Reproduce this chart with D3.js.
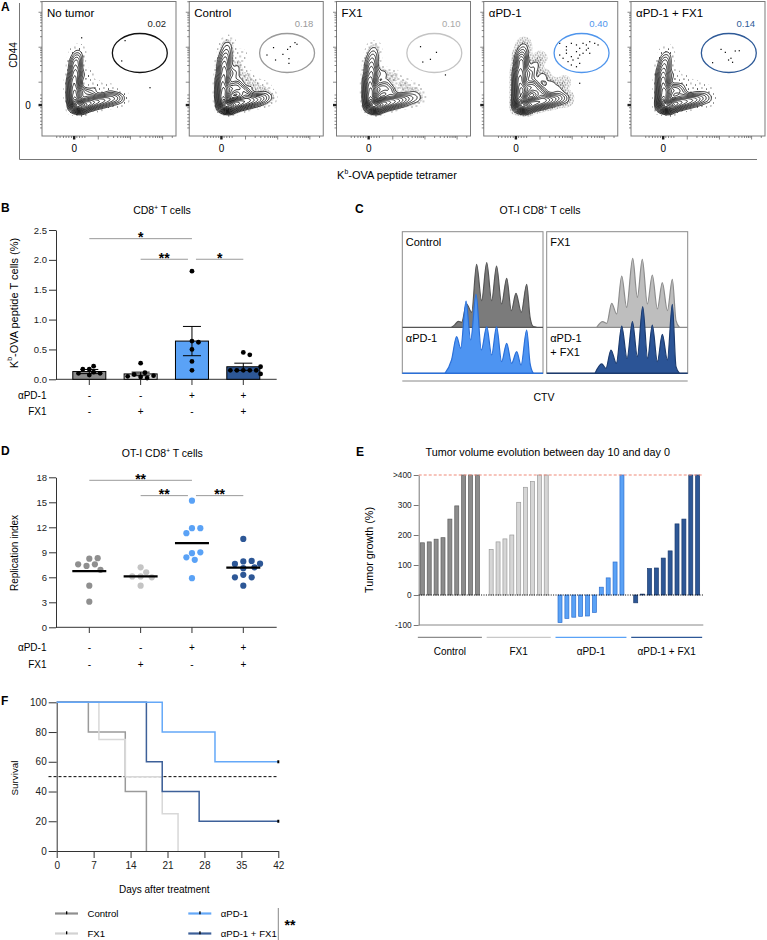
<!DOCTYPE html>
<html><head><meta charset="utf-8">
<script src="https://cdn.jsdelivr.net/npm/d3@7/dist/d3.min.js"></script>
<style>
body{margin:0;background:#fff;}
svg{display:block;font-family:"Liberation Sans",Arial,Helvetica,sans-serif;}
</style></head><body>
<svg id="fig" width="767" height="940"></svg>
<script>
// ======================= DATA =======================
// ---- Panel A (flow cytometry, arbitrary fluorescence units 0-100) ----
const flowGroups = ["No tumor","Control","FX1","αPD-1","αPD-1 + FX1"];
const gateValues = ["0.02","0.18","0.10","0.40","0.14"];
const gateEllipse = [73, 61.7, 20.5, 14.5];   // cx, cy, rx, ry (data units)
// density anchors [x, y, weight]
const popNoTumor = [[25,23,12],[29,22,10],[24,29,9],[24,35,8],[24,41,7],[25,47,6],[25,53,4],[26,58,2.5],[27,63,0.8],[34,24,8],[39,25,6],[44,26,5],[49,27,4],[54,28,3],[59,28,1.5],[30,32,3],[36,31,2],[33,45,0.8],[40,36,0.8],[50,34,0.6]];
const popControl = [[26,23,12],[30,22,10],[25,29,9],[25,35,8],[25,41,7],[26,47,6],[26,53,5],[27,59,3.5],[28,65,1.8],[29,70,0.6],[35,24,8],[40,25,6],[45,26,5],[50,27,4],[55,28,2.5],[60,29,1],[31,34,4],[35,38,3],[39,34,3],[43,31,2.5],[33,46,2],[36,52,1],[42,44,1],[48,38,1],[56,36,0.6],[38,60,0.5]];
const popFX1 = [[26,23,12],[30,22,10],[25,29,9],[25,35,8],[25,41,7],[26,47,5.5],[26,53,4],[27,59,2.5],[28,65,1],[35,24,8],[40,25,6],[45,26,5],[50,27,3.5],[55,28,2],[60,28,1],[31,34,3.5],[36,37,2.5],[40,33,2.5],[34,46,1.5],[42,44,1],[50,38,1],[58,35,0.6],[62,30,0.4]];
const popAPD1 = [[27,23,12],[31,22,10],[27,29,9],[27,35,8.5],[27,41,8],[27,47,7],[28,53,5.5],[28,58,4],[29,63,2],[30,68,0.8],[36,24,8],[41,25,7],[46,26,6],[51,27,4.5],[56,28,3],[61,28,1.5],[32,34,5],[36,38,4],[40,34,4],[44,31,3],[34,46,3],[38,52,1.5],[44,44,1.5],[50,38,1.5],[56,35,1],[42,58,0.6],[60,40,0.5]];
const popCombo = [[24,23,12],[28,22,10],[24,29,9],[24,35,8],[24,41,7],[24,47,5.5],[25,53,3.5],[26,58,1.8],[27,63,0.6],[33,24,8],[38,25,6],[43,26,5],[48,27,4],[53,28,2.5],[58,28,1.2],[29,33,3.5],[34,35,2.5],[38,32,2],[31,45,1],[40,40,0.7],[48,36,0.6],[56,34,0.4]];
// individual events (gate region / outliers)
const evNoTumor = [[62,70.9],[59.5,55.8],[80.6,35.9],[29.6,73]];
const evControl = [[62.9,65.7],[69.9,60.7],[73.4,64.4],[75.4,66.4],[78.9,69.4],[80.4,68.2],[64.4,56.5],[74.4,57.5],[74.4,54],[58,60.2]];
const evFX1 = [[62.7,66.4],[74.6,62.2],[70.1,57],[64.4,55],[81.3,45.4]];
const evAPD1 = [[56.7,68.9],[61.7,66.4],[65.4,68.9],[69.2,67.7],[71.6,65.2],[74.1,68.9],[76.6,67.7],[79.1,70.1],[82.8,68.9],[85.3,67.7],[61.7,61.5],[65.4,59],[69.2,62.7],[71.6,60.2],[74.1,61.5],[76.6,63.9],[79.1,61.5],[59.2,57.8],[62.9,55.3],[66.6,56.5],[70.4,57.8],[71.6,54],[65.4,52.8],[69.2,51.5],[61.7,63.9],[56.7,60.2],[78,65.2],[71.6,39.2]];
const evCombo = [[67.2,64.4],[70.4,62.2],[77.8,63.2],[80.8,63.4],[72.8,56.5],[75.8,54.8],[60.9,54.5],[74.6,57.8]];
const flowXZero = 24, flowYZero = 23;
const flowXLinTicks = [11,13.5,16,18,20,22,26,28,30,32];
const flowXDecades = [42,66,90];
const flowYLinTicks = [6,8.5,11,13.5,16,18.5,21,25.5,28,30.5];
const flowYDecades = [40,66,92];

// ---- Panel B ----
const groupsB = [0,1,2,3];
const apd1Signs = ["-","-","+","+"];
const fx1Signs  = ["-","+","-","+"];
const meanB = [0.13,0.09,0.64,0.21];
const semB  = [0.035,0.03,0.245,0.06];
const dotsB = [
  [0.17,0.07,0.12,0.17,0.10,0.22,0.10],
  [0.04,0.11,0.27,0.08,0.02,0.06,0.05],
  [1.81,0.64,0.62,0.50,0.30,0.15],
  [0.45,0.41,0.15,0.15,0.15,0.15,0.15,0.21,0.09]
];
const yTicksB = [0,0.5,1.0,1.5,2.0,2.5];
const sigB = [[0,2,2.355,"*"],[1,2,2.01,"**"],[2,3,2.01,"*"]];

// ---- Panel C (CTV histograms: [channel 0-100, count]) ----
const histControl = [[35,0],[37.4,8],[39.8,18],[42.2,15],[45.7,70],[49.3,45],[52.8,189],[56.4,80],[60,194],[63.5,80],[67,184],[70.6,70],[74.2,147],[77.5,50],[80.8,102],[84.6,45],[88.4,129],[90.8,30],[93.1,2],[95.5,0]];
const histAPD1 = [[30.3,0],[35,40],[38.6,110],[41.5,75],[45.3,217],[48.6,100],[52.4,237],[56.2,70],[60,140],[63.5,55],[67,140],[70.6,35],[74.2,90],[77.7,30],[81.3,65],[84.4,25],[88.4,130],[90.8,30],[93.1,0]];
const histFX1 = [[35.5,0],[39.7,17],[42.6,12],[46.1,72],[49.6,40],[53.2,154],[56.7,60],[61,207],[64.3,90],[67.8,204],[71.4,70],[74.9,157],[78.5,55],[82,134],[85.6,50],[89.1,144],[91.7,20],[94.1,0]];
const histCombo = [[34.3,0],[39,28],[42,15],[45.6,70],[49.4,30],[53.2,142],[57,45],[60.8,155],[64.3,50],[68.1,200],[71.6,45],[74.9,145],[78.5,35],[82,117],[85.6,40],[89.1,207],[91.7,20],[94.1,0]];

// ---- Panel D ----
const meanD = [6.75,6.1,10.1,7.15];
const dotsD = [
  [8.24,8.3,7.56,7.36,7.56,6.9,5.0,3.08],
  [7.2,6.6,6.1,6.1,6.0,5.0],
  [15.2,11.9,11.9,11.3,8.9,9.0,8.4,8.1,5.9],
  [10.6,7.9,7.96,7.6,7.64,7.1,7.2,6.3,6.0,6.0,5.0]
];
const yTicksD = [0,3,6,9,12,15,18];
const sigD = [[0,2,17.64,"**"],[1,2,15.8,"**"],[2,3,15.8,"**"]];

// ---- Panel E ----
const groupsE = ["Control","FX1","αPD-1","αPD-1 + FX1"];
const eControl = [174,177,186,191,253,297,400,400,400];
const eFX1 = [152,177,187,200,309,359,378,400,400];
const eAPD1 = [-92,-78,-74,-71,-70,-58,26,57,110,400];
const eCombo = [-26,3,88,90,123,147,237,253,400,400];
const yTicksE = [-100,0,100,200,300,400];
const yTickLabelsE = ["-100","0","100","200","300",">400"];

// ---- Panel F ----
const survControl = [[0,100],[6,80],[13,40],[17,0]];
const survFX1 = [[0,100],[8,75],[13,50],[20,25],[23,0]];
const survAPD1 = [[0,100],[20,80],[30,60],[42,60]];
const survCombo = [[0,100],[17,60],[20,40],[27,20],[42,20]];
const xTicksF = [0,7,14,21,28,35,42];
const yTicksF = [0,20,40,60,80,100];
const legendF = ["Control","FX1","αPD-1","αPD-1 + FX1"];

// ======================= DRAWING =======================
const svg = d3.select("#fig");
const cGray = "#8c8c8c", cBlue = "#5aa2f6", cNavy = "#2d5796";
const defs = svg.append("defs");

function txt(g, x, y, s, o = {}) {
  const t = g.append("text").attr("x", x).attr("y", y).text(s)
    .attr("font-size", o.size || 10).attr("fill", o.fill || "#000")
    .attr("text-anchor", o.anchor || "start");
  if (o.weight) t.attr("font-weight", o.weight);
  if (o.base) t.attr("dominant-baseline", o.base);
  return t;
}
function rich(g, x, y, parts, size, o = {}) {
  const t = g.append("text").attr("font-size", size).attr("text-anchor", o.anchor || "middle");
  if (o.rotate) t.attr("transform", `translate(${x},${y}) rotate(-90)`);
  else t.attr("x", x).attr("y", y);
  if (o.base) t.attr("dominant-baseline", o.base);
  let raised = false;
  parts.forEach(p => {
    const ts = t.append("tspan").text(p[0]);
    if (p[1] === "sup") { ts.attr("font-size", size * 0.62).attr("dy", -size * 0.42); raised = true; }
    else if (raised) { ts.attr("dy", size * 0.42); raised = false; }
  });
  return t;
}
function speck(id, size, dots) {
  const p = defs.append("pattern").attr("id", id).attr("patternUnits", "userSpaceOnUse")
    .attr("width", size).attr("height", size);
  dots.forEach(d => p.append("rect").attr("x", d[0]).attr("y", d[1]).attr("width", 0.9).attr("height", 0.9).attr("fill", "#000"));
}
speck("speckSparse", 9, [[1,2],[5.5,0.5],[3,6],[7.5,5]]);
speck("speckDense", 5, [[0.5,0.5],[3,1.3],[1.4,3.1],[3.8,3.7]]);

// ---------------- Panel A ----------------
{
  const g0 = svg.append("g");
  txt(g0, 1, 11, "A", {size: 12, weight: "bold"});
  const aBand = d3.scaleBand().domain(flowGroups).range([42, 765]).paddingInner(0.09);
  const aTop = 1.5, aW = aBand.bandwidth(), aH = 134.5;
  const fx = d3.scaleLinear([0, 100], [0, aW]);
  const fy = d3.scaleLinear([0, 100], [aH, 0]);
  const pops = [popNoTumor, popControl, popFX1, popAPD1, popCombo];
  const evs = [evNoTumor, evControl, evFX1, evAPD1, evCombo];
  const gateCol = ["#111", "#9a9a9a", "#c4c4c4", "#4f95ec", "#2e5a98"];
  const labCol = ["#222", "#9a9a9a", "#a8a8a8", "#4f95ec", "#2e5a98"];
  const halo = [["speckSparse","speckSparse"],["speckSparse","speckDense"],["speckSparse","speckDense"],["speckDense","speckDense"],["speckSparse","speckSparse"]];
  const fr = [0.006, 0.03, 0.06, 0.095, 0.135, 0.18, 0.23, 0.285, 0.345, 0.41, 0.48, 0.55, 0.62, 0.69, 0.76, 0.83, 0.9, 0.96];
  const path = d3.geoPath();
  function minorTicks(decades, width) {
    const out = [];
    decades.forEach(D => { for (let k = 2; k <= 9; k++) { const v = D + width * Math.log10(k); if (v <= 100) out.push(v); } });
    return out;
  }
  flowGroups.forEach((name, i) => {
    const g = svg.append("g").attr("transform", `translate(${aBand(name)},${aTop})`);
    const cid = "clipA" + i;
    defs.append("clipPath").attr("id", cid).append("rect").attr("width", aW).attr("height", aH);
    const inner = g.append("g").attr("clip-path", `url(#${cid})`);
    const dens = d3.contourDensity().x(d => fx(d[0])).y(d => fy(d[1])).weight(d => d[2])
      .size([aW, aH]).cellSize(1).bandwidth(3.7);
    const probe = dens.thresholds(60)(pops[i]);
    const maxV = d3.max(probe.filter(c => c.coordinates.length), c => c.value);
    const cs = dens.thresholds(fr.map(f => f * maxV))(pops[i]);
    inner.append("path").attr("d", path(cs[0])).attr("fill", `url(#${halo[i][0]})`);
    inner.append("path").attr("d", path(cs[1])).attr("fill", `url(#${halo[i][1]})`);
    cs.slice(2).forEach((c, j) => inner.append("path").attr("d", path(c))
      .attr("fill", "#fff").attr("stroke", "#000").attr("stroke-width", 0.8));
    inner.selectAll("rect.ev").data(evs[i]).join("rect").attr("class", "ev")
      .attr("x", d => fx(d[0]) - 0.6).attr("y", d => fy(d[1]) - 0.6).attr("width", 1.2).attr("height", 1.2).attr("fill", "#000");
    g.append("ellipse").attr("cx", fx(gateEllipse[0])).attr("cy", fy(gateEllipse[1]))
      .attr("rx", fx(gateEllipse[2])).attr("ry", fy(0) - fy(gateEllipse[3]))
      .attr("fill", "none").attr("stroke", gateCol[i]).attr("stroke-width", 1.3);
    g.append("rect").attr("width", aW).attr("height", aH).attr("fill", "none").attr("stroke", "#7a7a7a").attr("stroke-width", 1);
    txt(g, 5, 15.2, name, {size: 11.5});
    txt(g, 124, 25.2, gateValues[i], {size: 9.5, anchor: "end", fill: labCol[i]});
    // bottom ticks
    const tk = g.append("g").attr("stroke", "#555").attr("stroke-width", 0.7);
    const xt = flowXLinTicks.concat(minorTicks(flowXDecades, 24));
    xt.forEach(v => tk.append("line").attr("x1", fx(v)).attr("x2", fx(v)).attr("y1", aH).attr("y2", aH + 2));
    flowXDecades.forEach(v => tk.append("line").attr("x1", fx(v)).attr("x2", fx(v)).attr("y1", aH).attr("y2", aH + 3.5));
    g.append("rect").attr("x", fx(flowXZero) - 1.2).attr("y", aH).attr("width", 2.4).attr("height", 3.5).attr("fill", "#222");
    const yt = flowYLinTicks.concat(minorTicks(flowYDecades, 26));
    yt.forEach(v => tk.append("line").attr("y1", fy(v)).attr("y2", fy(v)).attr("x1", 0).attr("x2", -2));
    flowYDecades.forEach(v => tk.append("line").attr("y1", fy(v)).attr("y2", fy(v)).attr("x1", 0).attr("x2", -3.5));
    g.append("rect").attr("y", fy(flowYZero) - 1.2).attr("x", -3.5).attr("width", 3.5).attr("height", 2.4).attr("fill", "#222");
    txt(g, fx(flowXZero), aH + 15.5, "0", {size: 10, anchor: "middle"});
    if (i === 0) txt(g, -14, fy(flowYZero) + 3.5, "0", {size: 10, anchor: "middle"});
  });
  // outer frame
  g0.append("path").attr("d", "M19.5,3 V159.5 H757").attr("fill", "none").attr("stroke", "#777").attr("stroke-width", 1);
  rich(g0, 14, 55, [["CD44"]], 10, {rotate: true, base: "middle"});
  rich(g0, 397, 179, [["K"], ["b", "sup"], ["-OVA peptide tetramer"]], 11);
}

// ---------- helpers for dot / bar panels ----------
function swarm(vals, y, r) {
  const placed = [];
  return vals.map(v => {
    const py = y(v);
    let off = 0;
    for (let k = 0; k < 60; k++) {
      const cand = k === 0 ? 0 : (k % 2 ? 1 : -1) * Math.ceil(k / 2) * r * 0.9;
      if (placed.every(p => Math.hypot(p[0] - cand, p[1] - py) >= 2 * r + 0.4)) { off = cand; break; }
    }
    placed.push([off, py]);
    return [off, py];
  });
}
function sigBrackets(g, sigs, x, y) {
  sigs.forEach(s => {
    const shared = sigs.filter(o => o !== s && o[2] === s[2]);
    let x1 = x(s[0]), x2 = x(s[1]);
    if (shared.some(o => o[0] === s[1] || o[1] === s[1])) x2 -= 4;
    if (shared.some(o => o[0] === s[0] || o[1] === s[0])) x1 += 4;
    const yy = y(s[2]);
    g.append("line").attr("x1", x1).attr("x2", x2).attr("y1", yy).attr("y2", yy).attr("stroke", "#9a9a9a").attr("stroke-width", 1);
    txt(g, (x1 + x2) / 2, yy + 3.5, s[3], {size: 14, weight: "bold", anchor: "middle"});
  });
}
function styleAxis(sel, size) {
  sel.attr("font-family", null).attr("font-size", size);
  sel.selectAll("path,line").attr("stroke", "#333");
  sel.selectAll("text").attr("fill", "#222");
}
function signRows(g, x, y1, y2) {
  txt(g, 46.5, y1 + 3.5, "αPD-1", {size: 10, anchor: "end"});
  txt(g, 46.5, y2 + 3.5, "FX1", {size: 10, anchor: "end"});
  groupsB.forEach(i => {
    txt(g, x(i), y1 + 3.5, apd1Signs[i], {size: 10, anchor: "middle"});
    txt(g, x(i), y2 + 3.5, fx1Signs[i], {size: 10, anchor: "middle"});
  });
}

// ---------------- Panel B ----------------
{
  const g = svg.append("g");
  txt(g, 1, 211.5, "B", {size: 12, weight: "bold"});
  rich(g, 162, 214, [["CD8"], ["+", "sup"], [" T cells"]], 10.5);
  const y = d3.scaleLinear([0, 2.5], [379.3, 230]);
  const x = d3.scalePoint().domain(groupsB).range([89.3, 243.3]);
  const ax = g.append("g").attr("transform", "translate(56,0)")
    .call(d3.axisLeft(y).tickValues(yTicksB).tickFormat(d3.format(".1f")).tickSize(7).tickSizeOuter(0).tickPadding(2));
  styleAxis(ax, 9.5);
  g.append("line").attr("x1", 56).attr("x2", 276.7).attr("y1", 379.3).attr("y2", 379.3).attr("stroke", "#333");
  groupsB.forEach(i => g.append("line").attr("x1", x(i)).attr("x2", x(i)).attr("y1", 379.3).attr("y2", 385).attr("stroke", "#333"));
  rich(g, 15, 303, [["K"], ["b", "sup"], ["-OVA peptide T cells (%)"]], 11, {rotate: true, base: "middle"});
  const fills = [cGray, "#dcdcdc", cBlue, cNavy];
  const bw = 33;
  groupsB.forEach(i => {
    g.append("rect").attr("x", x(i) - bw / 2).attr("y", y(meanB[i])).attr("width", bw)
      .attr("height", y(0) - y(meanB[i])).attr("fill", fills[i]).attr("stroke", "#000").attr("stroke-width", 1);
  });
  groupsB.forEach(i => {
    const hi = y(meanB[i] + semB[i]), lo = y(Math.max(0, meanB[i] - semB[i]));
    g.append("line").attr("x1", x(i)).attr("x2", x(i)).attr("y1", hi).attr("y2", lo).attr("stroke", "#000");
    [hi, lo].forEach(v => g.append("line").attr("x1", x(i) - 9).attr("x2", x(i) + 9).attr("y1", v).attr("y2", v).attr("stroke", "#000"));
  });
  groupsB.forEach(i => {
    swarm(dotsB[i], y, 2.4).forEach(p => g.append("circle").attr("cx", x(i) + p[0]).attr("cy", p[1]).attr("r", 2.4).attr("fill", "#000"));
  });
  sigBrackets(g, sigB, x, y);
  signRows(g, x, 395, 411.7);
}

// ---------------- Panel C ----------------
{
  const g = svg.append("g");
  txt(g, 355, 212.7, "C", {size: 12, weight: "bold"});
  rich(g, 540, 214.3, [["OT-I CD8"], ["+", "sup"], [" T cells"]], 10.5);
  const top = 231.7, bot = 373.3, mid = 327.3;
  const boxes = [[402.3, 543], [546.7, 687.7]];
  const h = d3.scaleLinear([0, 287], [0, 95.6]);
  const sets = [
    {up: histControl, low: histAPD1, upFill: "#7b7b7b", upStroke: "#555", lowFill: "#4d94f2", lowStroke: "#2a6fd8", l1: "Control", l2: ["αPD-1"]},
    {up: histFX1, low: histCombo, upFill: "#bebebe", upStroke: "#8c8c8c", lowFill: "#2b5496", lowStroke: "#1c3b6e", l1: "FX1", l2: ["αPD-1", "+ FX1"]}
  ];
  sets.forEach((s, i) => {
    const [x0, x1] = boxes[i];
    const x = d3.scaleLinear([0, 100], [x0, x1]);
    g.append("rect").attr("x", x0).attr("y", top).attr("width", x1 - x0).attr("height", bot - top).attr("fill", "#fff").attr("stroke", "#8a8a8a");
    const areaUp = d3.area().x(d => x(d[0])).y0(mid).y1(d => mid - h(d[1])).curve(d3.curveMonotoneX);
    const lineUp = d3.line().x(d => x(d[0])).y(d => mid - h(d[1])).curve(d3.curveMonotoneX);
    g.append("path").attr("d", areaUp(s.up)).attr("fill", s.upFill);
    g.append("line").attr("x1", x0).attr("x2", x1).attr("y1", mid).attr("y2", mid).attr("stroke", s.upStroke).attr("stroke-width", 1.2);
    g.append("path").attr("d", lineUp(s.up)).attr("fill", "none").attr("stroke", s.upStroke).attr("stroke-width", 1.2);
    const areaLo = d3.area().x(d => x(d[0])).y0(bot).y1(d => bot - h(d[1])).curve(d3.curveMonotoneX);
    const lineLo = d3.line().x(d => x(d[0])).y(d => bot - h(d[1])).curve(d3.curveMonotoneX);
    g.append("path").attr("d", areaLo(s.low)).attr("fill", s.lowFill);
    g.append("path").attr("d", lineLo(s.low)).attr("fill", "none").attr("stroke", s.lowStroke).attr("stroke-width", 1.2);
    g.append("line").attr("x1", x0).attr("x2", x1).attr("y1", bot).attr("y2", bot).attr("stroke", s.lowStroke).attr("stroke-width", 1.4);
    txt(g, x0 + 3.5, 246, s.l1, {size: 11});
    s.l2.forEach((t, k) => txt(g, x0 + 3.5, 341.7 + k * 14.3, t, {size: 11}));
  });
  g.append("line").attr("x1", 402.3).attr("x2", 687.7).attr("y1", 381).attr("y2", 381).attr("stroke", "#888");
  txt(g, 544, 400.5, "CTV", {size: 10.5, anchor: "middle"});
}

// ---------------- Panel D ----------------
{
  const g = svg.append("g");
  txt(g, 1, 455, "D", {size: 12, weight: "bold"});
  rich(g, 162.3, 457.3, [["OT-I CD8"], ["+", "sup"], [" T cells"]], 10.5);
  const y = d3.scaleLinear([0, 18], [627.3, 477.3]);
  const x = d3.scalePoint().domain(groupsB).range([89.3, 243.3]);
  const ax = g.append("g").attr("transform", "translate(56,0)")
    .call(d3.axisLeft(y).tickValues(yTicksD).tickSize(7).tickSizeOuter(0).tickPadding(2));
  styleAxis(ax, 9.5);
  g.append("line").attr("x1", 56).attr("x2", 276.7).attr("y1", 627.3).attr("y2", 627.3).attr("stroke", "#333");
  groupsB.forEach(i => g.append("line").attr("x1", x(i)).attr("x2", x(i)).attr("y1", 627.3).attr("y2", 633).attr("stroke", "#333"));
  txt(g, 0, 0, "Replication index", {size: 10, anchor: "middle", base: "middle"}).attr("transform", "translate(15,553) rotate(-90)");
  const cols = ["#8f8f8f", "#c4c4c4", "#5aa2f6", "#2d5796"];
  groupsB.forEach(i => {
    swarm(dotsD[i], y, 3.1).forEach(p => g.append("circle").attr("cx", x(i) + p[0]).attr("cy", p[1]).attr("r", 3.1).attr("fill", cols[i]));
    g.append("line").attr("x1", x(i) - 17).attr("x2", x(i) + 17).attr("y1", y(meanD[i])).attr("y2", y(meanD[i])).attr("stroke", "#000").attr("stroke-width", 2.3);
  });
  sigBrackets(g, sigD, x, y);
  signRows(g, x, 647.3, 664);
}

// ---------------- Panel E ----------------
{
  const g = svg.append("g");
  txt(g, 356, 456, "E", {size: 12, weight: "bold"});
  txt(g, 547.7, 455.5, "Tumor volume evolution between day 10 and day 0", {size: 10.8, anchor: "middle"});
  const y = d3.scaleLinear([-100, 400], [625, 475]);
  const series = [eControl, eFX1, eAPD1, eCombo];
  const slots = [];
  series.forEach((s, gi) => { s.forEach((v, k) => slots.push({g: gi, k, v})); if (gi < series.length - 1) slots.push({g: -1, k: gi}); });
  const x = d3.scaleBand().domain(d3.range(slots.length)).range([418.9, 701.1]).paddingInner(0.42).paddingOuter(0.21);
  const fill = [cGray, "#d6d6d6", cBlue, cNavy];
  const stroke = ["#5e5e5e", "#9a9a9a", "#2f6fcf", "#1c3b6e"];
  const ax = g.append("g").attr("transform", "translate(418.7,0)")
    .call(d3.axisLeft(y).tickValues(yTicksE).tickFormat((d, i) => yTickLabelsE[i]).tickSize(5).tickSizeOuter(0).tickPadding(2));
  styleAxis(ax, 8.3);
  ax.selectAll("path,line").attr("stroke", "#777");
  g.append("line").attr("x1", 418.7).attr("x2", 703.3).attr("y1", 625).attr("y2", 625).attr("stroke", "#888");
  slots.forEach((s, i) => {
    if (s.g < 0) return;
    const y0 = y(0), y1 = y(s.v);
    g.append("rect").attr("x", x(i)).attr("width", x.bandwidth()).attr("y", Math.min(y0, y1)).attr("height", Math.max(0.8, Math.abs(y1 - y0)))
      .attr("fill", fill[s.g]).attr("stroke", stroke[s.g]).attr("stroke-width", 0.7);
  });
  g.append("line").attr("x1", 418.7).attr("x2", 703.3).attr("y1", y(400)).attr("y2", y(400)).attr("stroke", "#f08a78").attr("stroke-width", 1.2).attr("stroke-dasharray", "3,2");
  g.append("line").attr("x1", 418.7).attr("x2", 703.3).attr("y1", y(0)).attr("y2", y(0)).attr("stroke", "#000").attr("stroke-width", 1.2).attr("stroke-dasharray", "1,1.4");
  txt(g, 0, 0, "Tumor growth (%)", {size: 10.8, anchor: "middle", base: "middle"}).attr("transform", "translate(370,550) rotate(-90)");
  groupsE.forEach((name, gi) => {
    const idx = slots.map((s, i) => s.g === gi ? i : -1).filter(i => i >= 0);
    const xa = x(idx[0]) - 2.5, xb = x(idx[idx.length - 1]) + x.bandwidth() + 2.5;
    g.append("line").attr("x1", xa).attr("x2", xb).attr("y1", 637.3).attr("y2", 637.3).attr("stroke", gi === 1 ? "#c8c8c8" : fill[gi]).attr("stroke-width", 1.3);
    txt(g, (xa + xb) / 2, 654.5, name, {size: 10, anchor: "middle"});
  });
}

// ---------------- Panel F ----------------
{
  const g = svg.append("g");
  txt(g, 1, 705, "F", {size: 12, weight: "bold"});
  const x = d3.scaleLinear([0, 42], [56.7, 278.3]);
  const y = d3.scaleLinear([0, 100], [851, 702.3]);
  const ay = g.append("g").attr("transform", "translate(56.7,0)")
    .call(d3.axisLeft(y).tickValues(yTicksF).tickSize(8).tickSizeOuter(0).tickPadding(2));
  styleAxis(ay, 10);
  const axb = g.append("g").attr("transform", "translate(0,851)")
    .call(d3.axisBottom(x).tickValues(xTicksF).tickSize(7).tickSizeOuter(0).tickPadding(4));
  styleAxis(axb, 10);
  g.append("line").attr("x1", 48.5).attr("x2", 278.3).attr("y1", y(50)).attr("y2", y(50)).attr("stroke", "#000").attr("stroke-width", 1).attr("stroke-dasharray", "3,2");
  const line = d3.line().x(d => x(d[0])).y(d => y(d[1])).curve(d3.curveStepAfter);
  const curves = [[survControl, "#9a9a9a"], [survFX1, "#d8d8d8"], [survCombo, "#3d6099"], [survAPD1, "#64a8f8"]];
  curves.forEach(c => g.append("path").attr("d", line(c[0])).attr("fill", "none").attr("stroke", c[1]).attr("stroke-width", 1.5));
  [survAPD1, survCombo].forEach(s => {
    const last = s[s.length - 1];
    g.append("rect").attr("x", x(last[0]) - 1).attr("y", y(last[1]) - 1.5).attr("width", 2).attr("height", 3).attr("fill", "#000");
  });
  txt(g, 0, 0, "Survival", {size: 9.8, anchor: "middle", base: "middle"}).attr("transform", "translate(15,778) rotate(-90)");
  txt(g, 164.3, 892.5, "Days after treatment", {size: 10, anchor: "middle"});
  // legend
  const legCol = ["#8f8f8f", "#d2d2d2", "#64a8f8", "#3d6099"];
  const legX = [55, 55, 188.3, 188.3], legY = [913.5, 933.5, 913.5, 933.5];
  legendF.forEach((name, i) => {
    g.append("line").attr("x1", legX[i]).attr("x2", legX[i] + 23).attr("y1", legY[i]).attr("y2", legY[i]).attr("stroke", legCol[i]).attr("stroke-width", 2.2);
    g.append("rect").attr("x", legX[i] + 11).attr("y", legY[i] - 2.2).attr("width", 1.3).attr("height", 3).attr("fill", "#000");
    txt(g, legX[i] + 32.5, legY[i] + 3.4, name, {size: 9.6});
  });
  g.append("line").attr("x1", 278.3).attr("x2", 278.3).attr("y1", 908).attr("y2", 940).attr("stroke", "#888");
  txt(g, 290, 929.5, "**", {size: 14, weight: "bold", anchor: "middle"});
}
</script>
</body></html>
